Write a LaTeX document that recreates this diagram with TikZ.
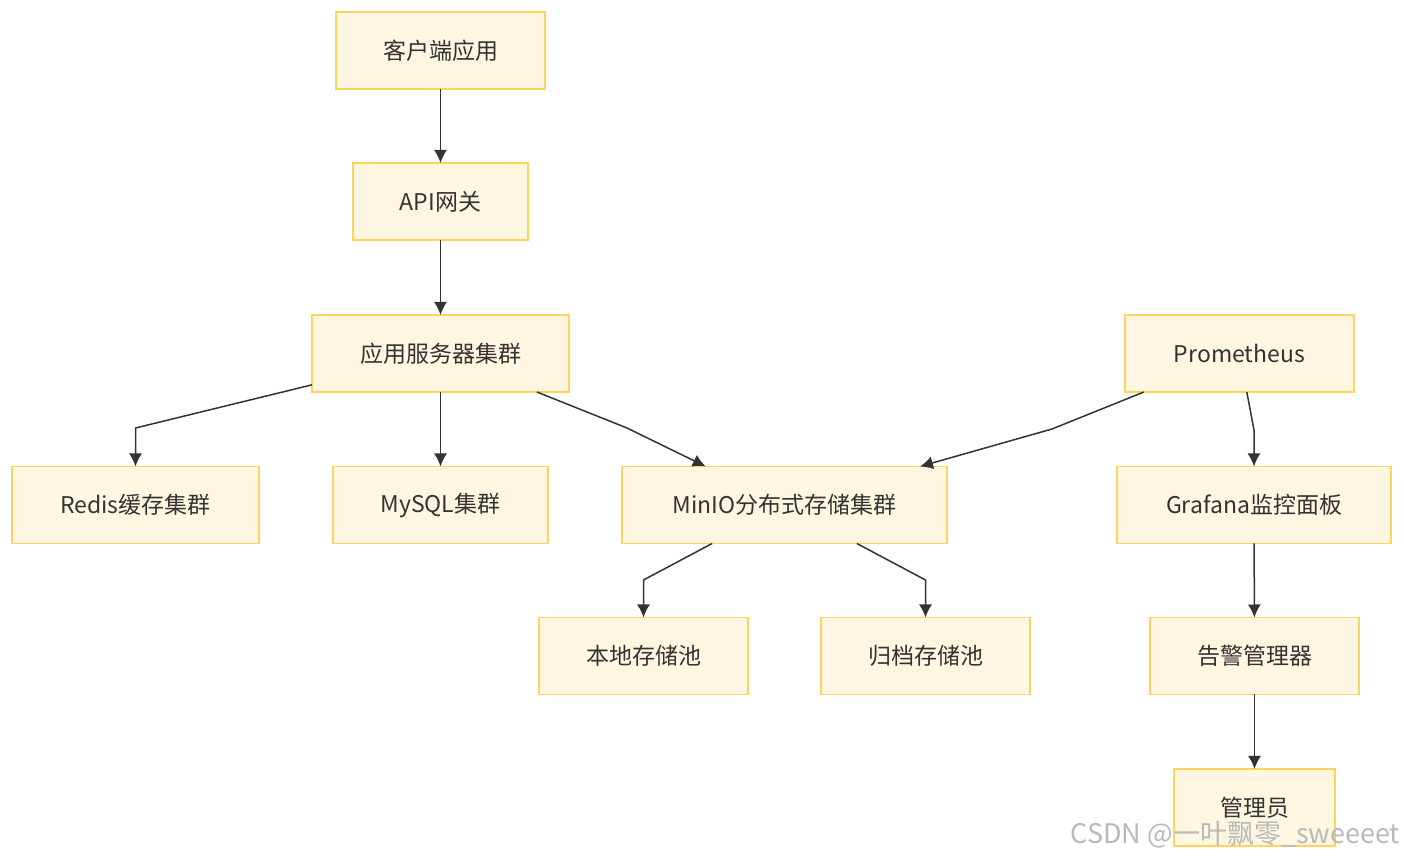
\documentclass[tikz,border=0pt]{standalone}
\usepackage{fontspec}
\setmainfont{Noto Sans CJK SC}
\usetikzlibrary{arrows.meta}
\definecolor{boxfill}{HTML}{FFF6E2}
\definecolor{boxline}{HTML}{FFD45E}
\definecolor{ink}{HTML}{333333}
\begin{document}
\begin{tikzpicture}[x=0.5pt, y=-0.5pt]
\tikzset{ >={Latex[length=6.5pt,width=6.5pt]}, inner sep=0pt, outer sep=0pt,
  box/.style={draw=boxline, fill=boxfill, line width=0.7pt, minimum height=38.5pt,
    text=ink, font=\fontsize{11.5}{14}\selectfont},
  link/.style={->, draw=ink, line width=0.75pt} }
\useasboundingbox (0,0) rectangle (1404,860);
%\draw [lightgray, dashed](0,0) grid (1404,860);

\node [box, minimum width=104.5pt] (CLIENT) at (440.5,50.5)  {客户端应用};
\node [box, minimum width=87.5pt]  (GW)     at (440.5,201.5) {API网关};
\node [box, minimum width=128.5pt] (APP)    at (440.5,353.5) {应用服务器集群};
\node [box, minimum width=114.5pt] (PROM)   at (1239.5,353.5) {Prometheus};

\node [box, minimum width=123.5pt] (REDIS)  at (135.5,505)  {Redis缓存集群};
\node [box, minimum width=107.5pt] (MYSQL)  at (440.5,505)  {MySQL集群};
\node [box, minimum width=162.5pt] (MINIO)  at (784.5,505)  {MinIO分布式存储集群};
\node [box, minimum width=137pt]   (GRAF)   at (1254,505)   {Grafana监控面板};

\node [box, minimum width=104.5pt] (LOCAL)  at (643.5,656)  {本地存储池};
\node [box, minimum width=104.5pt] (ARCH)   at (925.5,656)  {归档存储池};
\node [box, minimum width=104.5pt] (ALERT)  at (1254.5,656) {告警管理器};
\node [box, minimum width=80.5pt]  (ADMIN)  at (1254.5,807.5) {管理员};

\draw [link] (CLIENT) -- (GW);
\draw [link] (GW)     -- (APP);
\draw [link] (APP)    -- (135.5,428) -- (REDIS);
\draw [link] (APP)    -- (MYSQL);
\draw [link] (APP)    -- (627,428) -- (MINIO);
\draw [link] (PROM)   -- (1052,429) -- (MINIO);
\draw [link] (PROM)   -- (1254,430) -- (GRAF);
\draw [link] (MINIO)  -- (643.5,580) -- (LOCAL);
\draw [link] (MINIO)  -- (925.5,580) -- (ARCH);
\draw [link] (GRAF)   -- (ALERT);
\draw [link] (ALERT)  -- (ADMIN);

\node [anchor=base east, text=gray!55, font=\fontsize{13.5}{15}\selectfont] (MARK) at (1400,843) {CSDN @一叶飘零\_sweeeet};

\end{tikzpicture}
\end{document}
